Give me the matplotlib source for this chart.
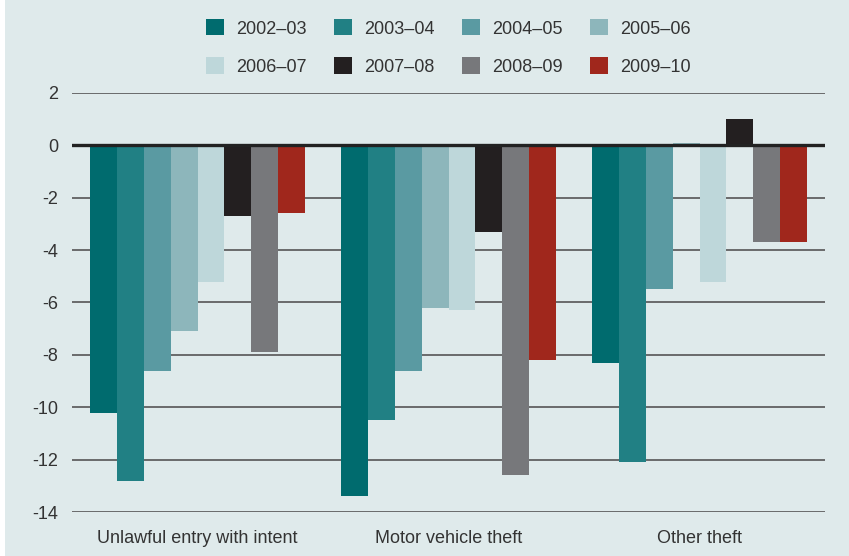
import matplotlib.pyplot as plt
from matplotlib.patches import Patch, Rectangle
import numpy as np

plt.rcParams['font.family'] = ['Liberation Sans Narrow', 'Liberation Sans', 'DejaVu Sans']

categories = ["Unlawful entry with intent", "Motor vehicle theft", "Other theft"]
years = ["2002\u201303", "2003\u201304", "2004\u201305", "2005\u201306",
         "2006\u201307", "2007\u201308", "2008\u201309", "2009\u201310"]
# percent change, one list per year: [unlawful entry, motor vehicle, other theft]
v_2002_03 = [-10.2, -13.4, -8.3]
v_2003_04 = [-12.8, -10.5, -12.1]
v_2004_05 = [-8.6, -8.6, -5.5]
v_2005_06 = [-7.1, -6.2, 0.1]
v_2006_07 = [-5.2, -6.3, -5.2]
v_2007_08 = [-2.7, -3.3, 1.0]
v_2008_09 = [-7.9, -12.6, -3.7]
v_2009_10 = [-2.6, -8.2, -3.7]
series = [v_2002_03, v_2003_04, v_2004_05, v_2005_06,
          v_2006_07, v_2007_08, v_2008_09, v_2009_10]
colors = ["#006b6e", "#218084", "#5a9aa2", "#8db6bb",
          "#bed7da", "#231f20", "#77787b", "#a0271c"]

bg = "#dfeaeb"
fig = plt.figure(figsize=(8.49, 5.56), dpi=100, facecolor=bg)
ax = fig.add_axes([0.0848, 0.079, 0.887, 0.754])
ax.set_facecolor(bg)

x = np.arange(len(categories))
w = 0.853 / len(series)
for i, (vals, c) in enumerate(zip(series, colors)):
    ax.bar(x + (i - 3.5) * w, vals, width=w, color=c, zorder=2)

ax.set_xlim(-0.5, 2.5)
ax.set_ylim(-14, 2)
ax.set_yticks(range(-14, 3, 2))
ax.set_yticklabels([str(t) for t in range(-14, 3, 2)])
ax.set_xticks(x)
ax.set_xticklabels(categories)
ax.grid(axis='y', color='#555555', linewidth=1.2, zorder=1)
ax.set_axisbelow(True)
ax.axhline(0, color='#222222', linewidth=2.4, zorder=3)
for s in ax.spines.values():
    s.set_visible(False)
ax.tick_params(axis='y', length=0, pad=10, labelsize=13, labelcolor='#333333')
ax.tick_params(axis='x', length=0, pad=13, labelsize=13, labelcolor='#333333')

# legend fills column by column, so reorder to read across rows
order = [0, 4, 1, 5, 2, 6, 3, 7]
handles = [Patch(facecolor=colors[k], edgecolor='none') for k in order]
labels = [years[k] for k in order]
fig.legend(handles, labels, loc='center', bbox_to_anchor=(0.528, 0.9146),
           ncol=4, frameon=False, fontsize=13, handlelength=1.0, handleheight=1.0,
           handletextpad=0.67, columnspacing=1.5, labelspacing=1.1,
           labelcolor='#333333', borderpad=0)

# thin white strip at the left edge
fig.patches.append(Rectangle((0, 0), 5 / 849, 1, transform=fig.transFigure,
                             facecolor='white', edgecolor='none'))

fig.savefig("out.png", dpi=100, facecolor=bg)
